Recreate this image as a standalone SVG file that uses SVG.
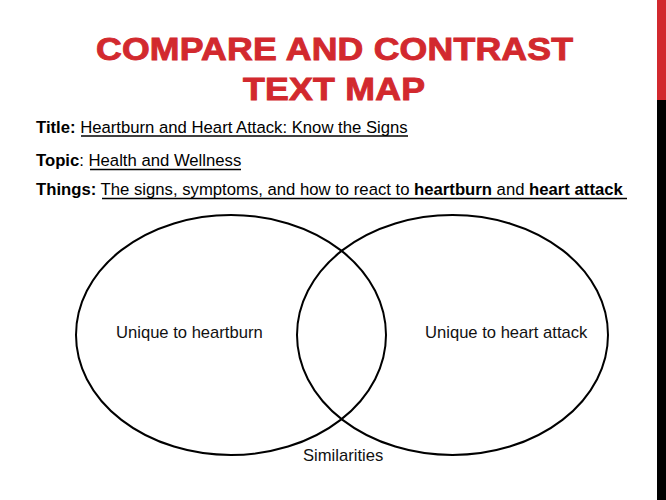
<svg xmlns="http://www.w3.org/2000/svg" width="666" height="500" viewBox="0 0 666 500">
  <style>
    .heading { font-family: "Liberation Sans", Arial, sans-serif; font-weight: bold; font-size: 31px; fill: #d2292e; stroke: #d2292e; stroke-width: 0.9; }
    .body { font-family: "Liberation Sans", Arial, sans-serif; font-size: 16.7px; fill: #000; }
    .b { font-weight: bold; }
    .rule { stroke: #000; stroke-width: 1.3; }
    .set { fill: none; stroke: #000; stroke-width: 2; }
    .label { font-family: "Liberation Sans", Arial, sans-serif; font-size: 16.6px; fill: #111; }
  </style>

  <rect width="666" height="500" fill="#fff"/>

  <!-- side bar -->
  <rect x="657" y="0" width="9" height="500" fill="#000"/>
  <rect x="657" y="0" width="9" height="100" fill="#d2292e"/>

  <!-- heading, widened horizontally -->
  <g transform="scale(1.15,1)">
    <text class="heading" x="83.5" y="60" textLength="414.8" lengthAdjust="spacing">COMPARE AND CONTRAST</text>
    <text class="heading" x="211.3" y="100" textLength="158.3" lengthAdjust="spacing">TEXT MAP</text>
  </g>

  <!-- details -->
  <text class="body" x="36" y="133"><tspan class="b">Title:</tspan> Heartburn and Heart Attack: Know the Signs</text>
  <line class="rule" x1="81" y1="136" x2="408" y2="136"/>

  <text class="body" x="36" y="166"><tspan class="b">Topic</tspan>: Health and Wellness</text>
  <line class="rule" x1="90" y1="169.5" x2="241" y2="169.5"/>

  <text class="body" x="36" y="195"><tspan class="b">Things:</tspan> The signs, symptoms, and how to react to <tspan class="b">heartburn</tspan> and <tspan class="b">heart attack</tspan></text>
  <line class="rule" x1="102" y1="198.5" x2="627" y2="198.5"/>

  <!-- Venn diagram -->
  <g id="heartburn">
    <ellipse class="set" cx="231" cy="335" rx="155" ry="120"/>
    <text class="label" x="116" y="338">Unique to heartburn</text>
  </g>
  <g id="heart-attack">
    <ellipse class="set" cx="452.5" cy="335" rx="155.5" ry="120"/>
    <text class="label" x="425" y="338">Unique to heart attack</text>
  </g>
  <g id="similarities">
    <text class="label" x="303" y="461">Similarities</text>
  </g>
  <g id="connectors"/>
</svg>
